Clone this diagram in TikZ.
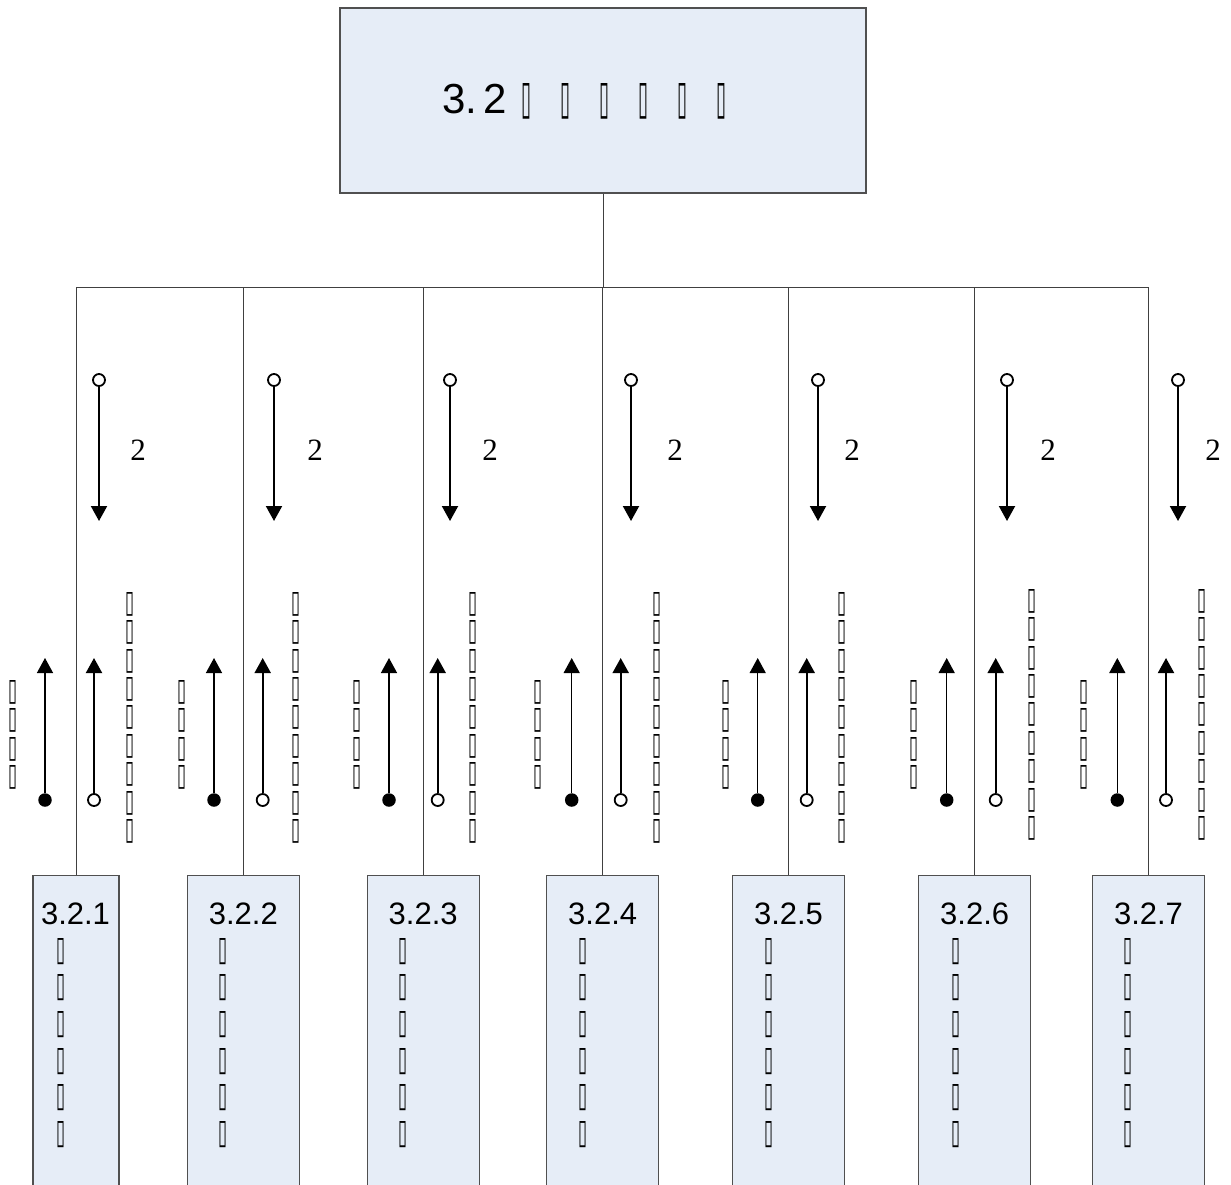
\documentclass[tikz,border=0pt]{standalone}
\usepackage{graphicx}
\usepackage{fontspec}
\setmainfont{Liberation Serif}
\setsansfont{Liberation Sans}
\newfontfamily\dejavu{DejaVu Sans}
\usetikzlibrary{arrows.meta}
\definecolor{boxfill}{HTML}{E6EDF7}
\definecolor{boxline}{HTML}{505050}
\newcommand\tT{\resizebox{10pt}{30pt}{\dejavu\bfseries ▯}}
\newcommand\tC{\resizebox{9pt}{22pt}{\dejavu\bfseries ▯}}
\newcommand\tL{\resizebox{9pt}{20pt}{\dejavu\bfseries ▯}}
\begin{document}
\begin{tikzpicture}[x=1pt,y=-1pt,
  box/.style={draw=boxline, fill=boxfill, line width=1.2pt, inner sep=0pt},
  conn/.style={draw=black!75, line width=1pt},
  odot/.style={circle, draw=black, fill=white, line width=1.8pt, minimum size=12pt, inner sep=0pt},
  fdot/.style={circle, fill=black, minimum size=13.5pt, inner sep=0pt},
  thick arr/.style={line width=2pt, -{Triangle[length=15pt,width=16pt]}},
  thin arr/.style={line width=1.4pt, -{Triangle[length=15pt,width=16pt]}},
  num/.style={font=\fontsize{31}{36}\sffamily, inner sep=0pt, anchor=base},
  two/.style={font=\fontsize{31}{36}\selectfont, inner sep=0pt},
  colC/.style={inner sep=0pt, align=center, anchor=north, font=\fontsize{22}{36.6}\selectfont},
  colL/.style={inner sep=0pt, align=center, anchor=north, font=\fontsize{20}{28.4}\selectfont},
]
\path[use as bounding box] (0,0) rectangle (1231,1184);
\clip (0,0) rectangle (1231,1184);

% top box
\node[box, minimum width=526pt, minimum height=185pt] (top) at (603,100.5) {};
\node[anchor=base west, inner sep=0pt, font=\fontsize{42}{48}\sffamily] (title) at (442,113)
  {3.\kern6pt 2\kern15pt\tT\kern29pt\tT\kern29pt\tT\kern29pt\tT\kern29pt\tT\kern29pt\tT};

% child boxes
\foreach \i/\cx/\w in {1/76/86, 2/243.3/112, 3/423.2/112, 4/602.7/112, 5/788.5/112, 6/974.7/112, 7/1148.5/112}{
  \node[box, anchor=north, minimum width=\w pt, minimum height=330pt] (c\i) at (\cx,874.7) {};
}
\foreach \i/\cx/\tx in {1/75.5/61, 2/243.3/222.7, 3/423.2/403, 4/602.7/583, 5/788.5/769, 6/974.7/955.7, 7/1148.5/1128}{
  \node[num] (n\i) at (\cx,924) {3.2.\i};
  \node[colC] (t\i) at (\tx,938) {\tC\\\tC\\\tC\\\tC\\\tC\\\tC};
}

% connectors
\coordinate (bus) at (603,287);
\draw[conn] (top.south) -- (bus);
\draw[conn] (c1.north |- bus) -- (c7.north |- bus);
\foreach \i in {1,...,7}{
  \draw[conn] (c\i.north |- bus) -- (c\i.north);
}

% arrows and labels
\foreach \i/\dx/\tx/\lx/\fx/\ox/\nx/\nt in {
  1/99/138/13/45/94/130/592,
  2/274/315/181.7/214/262.7/296/592,
  3/450/490/356.7/389/437.7/473.3/592,
  4/631/675/538/571.7/620.7/656.7/592,
  5/818/852/725.7/757.7/806.7/842.3/592,
  6/1007/1048/914.3/946.7/995.7/1031.7/589,
  7/1178/1213/1084/1117.3/1166/1202.3/589}{
  \node[odot] (da\i) at (\dx,380) {};
  \coordinate (db\i) at (\dx,521);
  \draw[thick arr] (da\i) -- (db\i);
  \node[two] (two\i) at (\tx,450) {2};
  \node[fdot] (fa\i) at (\fx,800) {};
  \coordinate (fb\i) at (\fx,658);
  \draw[thin arr] (fa\i) -- (fb\i);
  \node[odot] (oa\i) at (\ox,800) {};
  \coordinate (ob\i) at (\ox,658);
  \draw[thick arr] (oa\i) -- (ob\i);
  \node[colL] (l\i) at (\lx,680) {\tL\\\tL\\\tL\\\tL};
  \node[colL] (r\i) at (\nx,\nt) {\tL\\\tL\\\tL\\\tL\\\tL\\\tL\\\tL\\\tL\\\tL};
}
\end{tikzpicture}
\end{document}
